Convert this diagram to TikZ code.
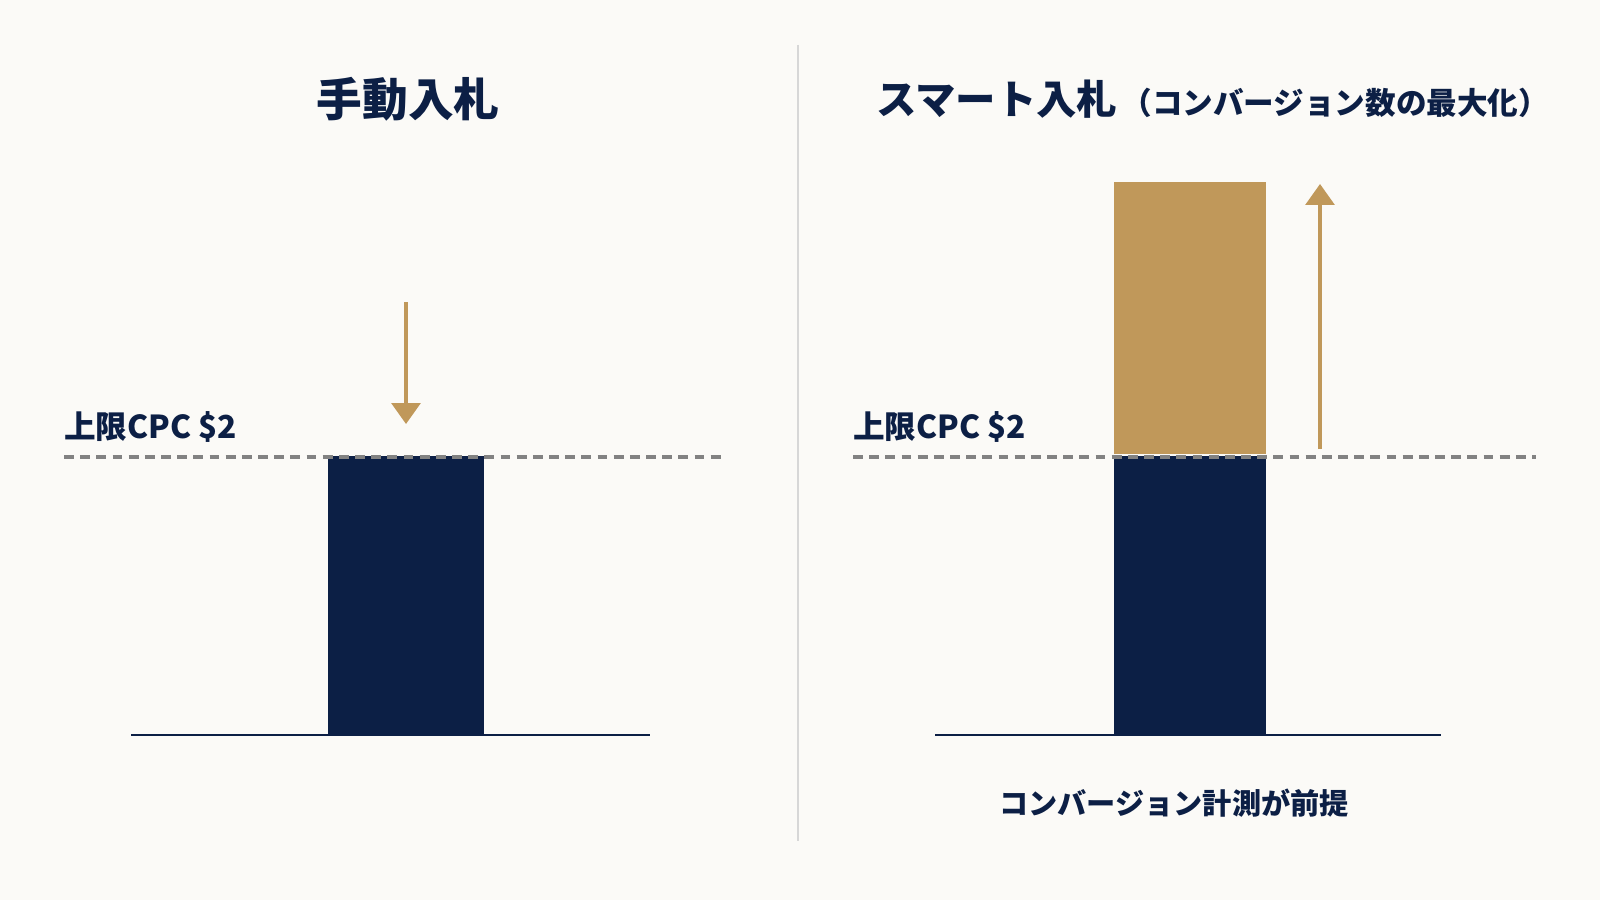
\documentclass[tikz,border=0pt]{standalone}
\usepackage{fontspec}
\setmainfont{Noto Sans CJK JP}
\usetikzlibrary{arrows.meta,positioning}
\definecolor{bg_white}{RGB}{251,250,247}
\definecolor{bar_navy}{RGB}{12,31,69}
\definecolor{bar_gold}{RGB}{192,152,90}
\definecolor{line_gray}{RGB}{130,130,130}
\definecolor{div_gray}{RGB}{215,215,215}

\begin{document}
\begin{tikzpicture}[semithick]
    \tikzstyle{paneltitle}=[font=\fontsize{13}{15}\selectfont\bfseries, text=bar_navy, inner sep=0pt]
    \tikzstyle{subtitle}=[font=\fontsize{8.7}{11}\selectfont\bfseries, text=bar_navy, inner sep=0pt]
    \tikzstyle{limitlabel}=[font=\fontsize{9.0}{11}\selectfont\bfseries, text=bar_navy, inner sep=0pt, anchor=west]
    \tikzstyle{bar}=[inner sep=0pt, anchor=south, minimum width=1.56cm]
    \tikzstyle{limit}=[draw=line_gray, line width=1pt, dash pattern=on 2.8pt off 1.8pt]
    \tikzstyle{floor}=[draw=bar_navy, line width=0.8pt]
    \tikzstyle{bidarrow}=[-{Triangle[width=0.29cm,length=0.21cm]}, draw=bar_gold, fill=bar_gold, line width=0.9pt]

    \fill[bg_white] (0,0) rectangle (16,9);
    \useasboundingbox (0,0) rectangle (16,9);

    \node[paneltitle] (manual) at (4.08,8.01) {手動入札};
    \node[paneltitle, font=\fontsize{11.5}{14}\selectfont\bfseries, anchor=west] (smart) at (8.75,8.01) {スマート入札};
    \node[subtitle, anchor=base west] (smart-sub) at ([xshift=0.02cm]smart.base east) {（コンバージョン数の最大化）};

    \coordinate (div-top) at (7.98,8.55);
    \coordinate (div-bot) at (7.98,0.59);
    \draw[div_gray, line width=0.6pt] (div-top) -- (div-bot);

    % manual bidding
    \node[bar, fill=bar_navy, minimum height=2.78cm] (cpc-bar) at (4.06,1.65) {};
    \coordinate (lim-l1) at (0.64,4.43);
    \coordinate (lim-l2) at (7.21,4.43);
    \coordinate (floor-l1) at (1.31,1.65);
    \coordinate (floor-l2) at (6.50,1.65);
    \coordinate (down-top) at (4.06,5.98);
    \coordinate (down-tip) at (4.06,4.76);
    \node[limitlabel] (lim-lab-l) at (0.63,4.73) {上限CPC \$2};

    % smart bidding
    \node[bar, fill=bar_navy, minimum width=1.52cm, minimum height=2.78cm] (conv-bar) at (11.90,1.65) {};
    \node[bar, fill=bar_gold, minimum width=1.52cm, minimum height=2.72cm] (up-bar) at (conv-bar.north) {};
    \coordinate (lim-r1) at (8.53,4.43);
    \coordinate (lim-r2) at (15.36,4.43);
    \coordinate (floor-r1) at (9.35,1.65);
    \coordinate (floor-r2) at (14.41,1.65);
    \coordinate (up-bot) at (13.20,4.51);
    \coordinate (up-tip) at (13.20,7.16);
    \node[limitlabel] (lim-lab-r) at (8.52,4.73) {上限CPC \$2};
    \node[subtitle, font=\fontsize{8.3}{10}\selectfont\bfseries] (premise) at (11.74,0.97) {コンバージョン計測が前提};

    \path
     (lim-l1) edge[limit] (lim-l2)
     (lim-r1) edge[limit] (lim-r2)
     (floor-l1) edge[floor] (floor-l2)
     (floor-r1) edge[floor] (floor-r2)
     (down-top) edge[bidarrow] (down-tip)
     (up-bot) edge[bidarrow] (up-tip)
     ;
\end{tikzpicture}
\end{document}
